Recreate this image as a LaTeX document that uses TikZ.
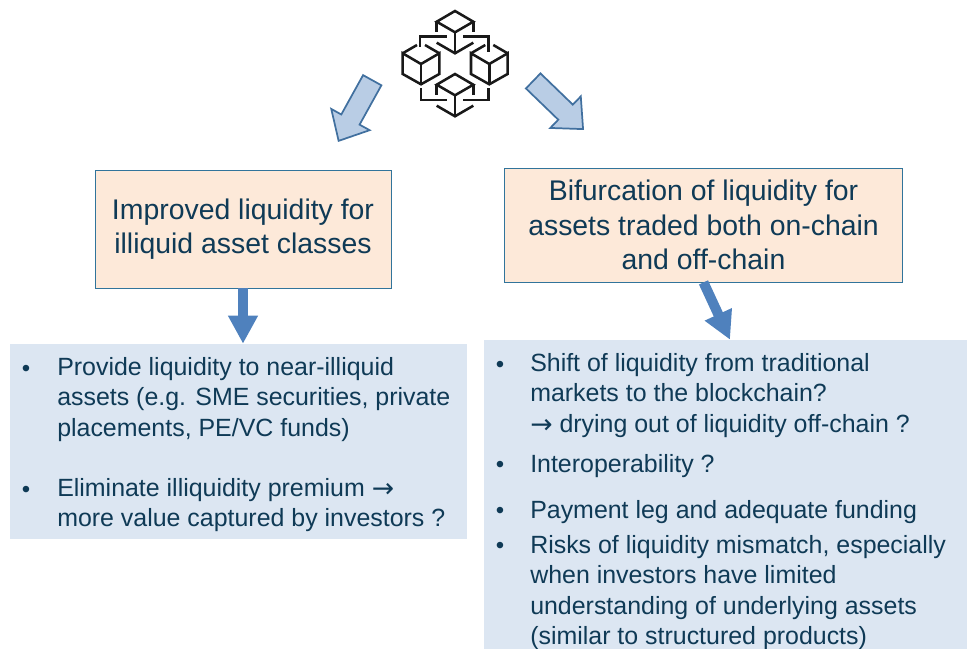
\documentclass[tikz,border=0pt]{standalone}
\usepackage{fontspec}
\setmainfont{Liberation Sans}
\newfontfamily\arrowfont{DejaVu Sans}
\usetikzlibrary{arrows.meta,shapes.arrows}

\definecolor{boxfill}{HTML}{FDE9D9}
\definecolor{boxline}{HTML}{31749B}
\definecolor{listfill}{HTML}{DCE6F2}
\definecolor{inktext}{HTML}{0F3A56}
\definecolor{arrowdark}{HTML}{4F81BD}
\definecolor{arrowlight}{HTML}{B9CDE5}
\definecolor{arrowedge}{HTML}{41709F}

\newcommand{\thento}{\smash{\raisebox{-1pt}{\arrowfont\fontsize{20}{22.8}\selectfont →}}}

\tikzset{
	headbox/.style={draw=boxline, fill=boxfill, line width=0.6pt, text=inktext, align=center, inner sep=0pt,
		font=\fontsize{21.3}{25.8}\selectfont},
	listbox/.style={fill=listfill, inner sep=0pt},
	itemtext/.style={anchor=north west, inner sep=0pt, align=left, text=inktext,
		font=\fontsize{18.7}{22.8}\selectfont},
	itemdot/.style={inner sep=0pt, text=inktext, font=\fontsize{18}{22}\selectfont},
	iconline/.style={line width=1.9pt, black!90},
	outarrow/.style={single arrow, draw=arrowedge, fill=arrowlight, line width=1.3pt, anchor=tip,
		inner xsep=0pt, inner ysep=7.2pt, minimum height=52pt, single arrow head extend=8.6pt,
		single arrow tip angle=84, single arrow head indent=0pt},
	fatarrow/.style={draw=arrowdark, line width=7.5pt, -{Triangle[length=21pt,width=21pt]}}
}

\begin{document}
\begin{tikzpicture}[x=0.75pt,y=-0.75pt]
	\useasboundingbox (0,0) rectangle (967,649);

	% Caixas
	\node[headbox, minimum width=222pt, minimum height=88.5pt] (liqbox) at (243,229)
		{Improved liquidity for\\illiquid asset classes};
	\node[headbox, minimum width=299pt, minimum height=85.5pt] (bifbox) at (703.5,225)
		{Bifurcation of liquidity for\\assets traded both on-chain\\and off-chain};

	% Listas
	\node[listbox, minimum width=342.75pt, minimum height=146.25pt] (liqlist) at (238.5,441.5) {};
	\node[listbox, minimum width=362.25pt, minimum height=231.75pt] (biflist) at (725.5,494.5) {};

	% Elementos
	\node[itemtext] (l1) at (57,357) {Provide liquidity to near-illiquid\\assets (e.g. SME securities, private\\placements, PE/VC funds)};
	\node[itemtext] (l2) at (57,478) {Eliminate illiquidity premium \thento\\more value captured by investors ?};

	\node[itemtext] (r1) at (530,353) {Shift of liquidity from traditional\\markets to the blockchain?\\\thento\ drying out of liquidity off-chain ?};
	\node[itemtext] (r2) at (530,454) {Interoperability ?};
	\node[itemtext] (r3) at (530,500) {Payment leg and adequate funding};
	\node[itemtext] (r4) at (530,535) {Risks of liquidity mismatch, especially\\when investors have limited\\understanding of underlying assets\\(similar to structured products)};

	\foreach \i/\x/\y in {1/26/371, 2/26/492, 3/500/367, 4/500/467, 5/500/513, 6/500/548}
		\node[itemdot] (dot\i) at (\x,\y) {•};

	% Setas
	\draw[fatarrow] (liqbox.south) -- (liqbox.south |- liqlist.north);
	\draw[fatarrow] (bifbox.south) -- ([xshift=3.4pt]biflist.north);
	\node[outarrow, rotate=-119] (arrowl) at (338,142) {};
	\node[outarrow, rotate=-44] (arrowr) at (584,130) {};

	% Blocos
	\foreach \cy in {11,74} {
		\draw[iconline, line join=miter] (455,\cy) -- ++(18.3,10.7) -- ++(-18.3,10.6) -- ++(-18.3,-10.6) -- cycle;
		\draw[iconline] (436.7,\cy+10.7) -- ++(0,10.6);
		\draw[iconline] (473.3,\cy+10.7) -- ++(0,10.6);
		\draw[iconline] (455,\cy+21.3) -- ++(0,21);
		\draw[iconline] (436.7,\cy+31.7) -- (455,\cy+42.3) -- (473.3,\cy+31.7);
	}
	\foreach \cx in {421,489.3} {
		\draw[iconline] (\cx-18.3,53.3) -- (\cx,64) -- (\cx+18.3,53.3) -- ++(0,20.7) -- (\cx,84.3) -- (\cx-18.3,74) -- cycle;
		\draw[iconline] (\cx,64) -- (\cx,84.3);
		\draw[iconline] (\cx-18.3,53.3) -- (\cx-4,45);
		\draw[iconline] (\cx+18.3,53.3) -- (\cx+4,45);
	}
	\draw[iconline] (420,46.7) -- (420,36.7) -- (446.7,36.7);
	\draw[iconline] (463.3,36.7) -- (488.3,36.7) -- (488.3,51.7);
	\draw[iconline] (421,88.3) -- (421,100) -- (446.7,100);
	\draw[iconline] (463.3,100) -- (488.3,100) -- (488.3,88.3);
\end{tikzpicture}
\end{document}
